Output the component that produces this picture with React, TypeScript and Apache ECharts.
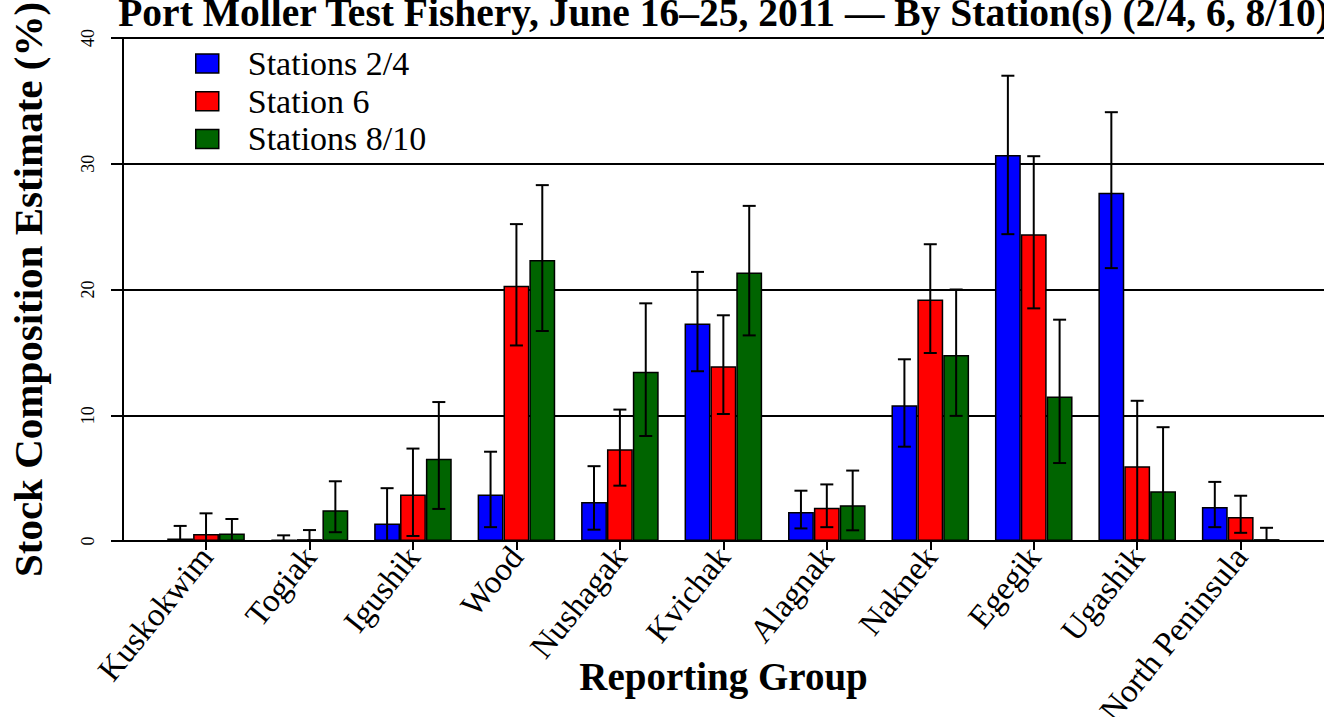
import React, { useEffect, useRef } from "react";
import * as echarts from "echarts";

const groups = ["Kuskokwim", "Togiak", "Igushik", "Wood", "Nushagak", "Kvichak", "Alagnak", "Naknek", "Egegik", "Ugashik", "North Peninsula"];
const seriesNames = ["Stations 2/4", "Station 6", "Stations 8/10"];

const st24 = [0.2, 0.1, 1.4, 3.7, 3.1, 17.3, 2.3, 10.8, 30.7, 27.7, 2.7];
const st24Lo = [0, 0, 0, 1.1, 0.9, 13.5, 1.0, 7.5, 24.4, 21.7, 1.1];
const st24Hi = [1.2, 0.45, 4.2, 7.1, 5.95, 21.4, 4.0, 14.45, 37.0, 34.1, 4.7];

const st6 = [0.55, 0.15, 3.7, 20.3, 7.3, 13.9, 2.65, 19.2, 24.4, 5.95, 1.9];
const st6Lo = [0, 0, 0.4, 15.55, 4.4, 10.1, 1.1, 14.95, 18.5, 0.05, 0.65];
const st6Hi = [2.2, 0.87, 7.35, 25.2, 10.45, 17.95, 4.5, 23.6, 30.6, 11.15, 3.6];

const st810 = [0.6, 2.45, 6.55, 22.35, 13.45, 21.35, 2.85, 14.8, 11.5, 3.95, 0.15];
const st810Lo = [0, 0.7, 2.55, 16.7, 8.35, 16.35, 0.85, 9.95, 6.2, 0, 0];
const st810Hi = [1.75, 4.75, 11.05, 28.3, 18.9, 26.65, 5.6, 20.0, 17.6, 9.05, 1.05];

const yTicks = [0, 10, 20, 30, 40];

const titleText = "Port Moller Test Fishery, June 16\u201325, 2011 \u2014 By Station(s) (2/4, 6, 8/10)";
const yTitle = "Stock Composition Estimate (%)";
const xTitle = "Reporting Group";

const colors = ["#0000FF", "#FF0000", "#006400"];
const FONT = "Liberation Serif";

export default function App() {
  const ref = useRef<HTMLDivElement>(null);
  useEffect(() => {
    if (!ref.current) return;
    const chart = echarts.init(ref.current, undefined, { renderer: "svg" });
    const values = [st24, st6, st810];
    const los = [st24Lo, st6Lo, st810Lo];
    const his = [st24Hi, st6Hi, st810Hi];

    const barSeries = values.map((v, s) => ({
      name: seriesNames[s],
      type: "bar",
      xAxisIndex: 1,
      yAxisIndex: 1,
      data: v,
      barWidth: "25%",
      barGap: "0%",
      itemStyle: { color: colors[s], borderColor: "#000", borderWidth: 1.5 },
      z: 2,
    }));

    const errSeries = values.map((v, s) => ({
      name: "err" + s,
      type: "custom",
      xAxisIndex: 1,
      yAxisIndex: 1,
      z: 5,
      data: groups.map((g, i) => [i, los[s][i], his[s][i]]),
      renderItem: (params: any, api: any) => {
        const i = api.value(0);
        const lo = api.coord([i, api.value(1)]);
        const hi = api.coord([i, api.value(2)]);
        const w = api.size([1, 0])[0] / 4;
        const x = lo[0] + (s - 1) * w;
        const st = { stroke: "#000", lineWidth: 2 };
        const cap = 6.5;
        return {
          type: "group",
          children: [
            { type: "line", shape: { x1: x, y1: lo[1], x2: x, y2: hi[1] }, style: st },
            { type: "line", shape: { x1: x - cap, y1: lo[1], x2: x + cap, y2: lo[1] }, style: st },
            { type: "line", shape: { x1: x - cap, y1: hi[1], x2: x + cap, y2: hi[1] }, style: st },
          ],
        };
      },
    }));

    const option: any = {
      animation: false,
      backgroundColor: "#fff",
      grid: [
        { left: 123, right: 0, top: 38, bottom: 176, containLabel: false, outerBoundsMode: "none" },
        { left: 154.3, right: 31.6, top: 38, bottom: 176, containLabel: false, outerBoundsMode: "none" },
      ],
      xAxis: [
        { type: "value", gridIndex: 0, min: 0, max: 1, show: false },
        {
          type: "category",
          gridIndex: 1,
          data: groups,
          axisLine: { show: false },
          axisTick: { show: true, alignWithLabel: true, length: 9, lineStyle: { color: "#000", width: 2 } },
          axisLabel: {
            interval: 0,
            rotate: 51,
            margin: 10,
            color: "#000",
            fontSize: 33,
            fontFamily: FONT,
          },
          splitLine: { show: false },
        },
      ],
      yAxis: [
        {
          type: "value",
          gridIndex: 0,
          min: 0,
          max: 40,
          interval: 10,
          axisLine: { show: true, lineStyle: { color: "#000", width: 2 } },
          axisTick: { show: true, length: 12, lineStyle: { color: "#000", width: 2 } },
          axisLabel: {
            rotate: 90,
            margin: 26,
            color: "#000",
            fontSize: 18,
            fontFamily: FONT,
            formatter: (v: number) => (yTicks.indexOf(v) >= 0 ? String(v) : ""),
          },
          splitLine: { show: true, lineStyle: { color: "#000", width: 2 } },
        },
        { type: "value", gridIndex: 1, min: 0, max: 40, show: false },
      ],
      legend: {
        data: seriesNames,
        orient: "vertical",
        left: 195,
        top: 46.5,
        padding: 0,
        itemWidth: 23,
        itemHeight: 19,
        itemGap: 3.7,
        icon: "rect",
        itemStyle: { borderColor: "#000", borderWidth: 1.5 },
        textStyle: { fontSize: 34, fontFamily: FONT, color: "#000", padding: [0, 0, 0, 24] },
      },
      graphic: [
        {
          type: "text",
          x: 723.5,
          y: 13,
          style: { text: titleText, fill: "#000", font: "bold 39.5px " + FONT, textAlign: "center", textVerticalAlign: "middle" },
        },
        {
          type: "text",
          x: 27.5,
          y: 289.5,
          rotation: Math.PI / 2,
          style: { text: yTitle, fill: "#000", font: "bold 41px " + FONT, textAlign: "center", textVerticalAlign: "middle" },
        },
        {
          type: "text",
          x: 723.5,
          y: 676,
          style: { text: xTitle, fill: "#000", font: "bold 39px " + FONT, textAlign: "center", textVerticalAlign: "middle" },
        },
      ],
      series: [...barSeries, ...errSeries],
    };
    chart.setOption(option);
    return () => chart.dispose();
  }, []);
  return <div ref={ref} style={{ position: "fixed", left: 0, top: 0, width: 1324, height: 717 }} />;
}
